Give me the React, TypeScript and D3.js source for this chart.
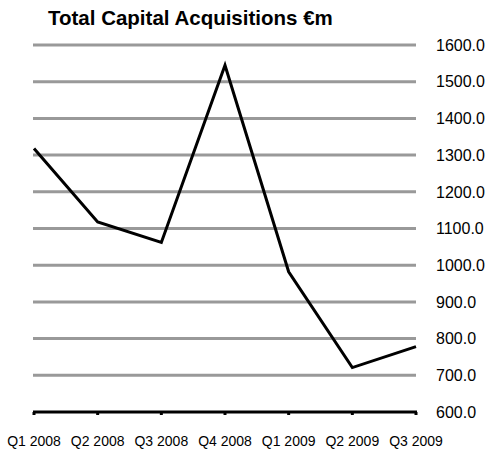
import { useEffect, useRef } from 'react';
import * as d3 from 'd3';

const quarters = ['Q1 2008', 'Q2 2008', 'Q3 2008', 'Q4 2008', 'Q1 2009', 'Q2 2009', 'Q3 2009'];
const acquisitions = [1318, 1118, 1062, 1545, 982, 721, 778];
const yTicks = [600, 700, 800, 900, 1000, 1100, 1200, 1300, 1400, 1500, 1600];
const title = 'Total Capital Acquisitions €m';

const App = () => {
  const svgRef = useRef<SVGSVGElement | null>(null);

  useEffect(() => {
    const width = 491;
    const height = 450;
    const left = 34;
    const right = 416;
    const top = 45;
    const bottom = 412;

    const svg = d3.select(svgRef.current)
      .attr('width', width)
      .attr('height', height)
      .style('font-family', '"Liberation Sans", Arial, sans-serif');

    svg.selectAll('*').remove();

    const x = d3.scalePoint()
      .domain(quarters)
      .range([left, right]);

    const y = d3.scaleLinear()
      .domain([600, 1600])
      .range([bottom, top]);

    svg.append('text')
      .attr('x', 48)
      .attr('y', 25)
      .attr('font-size', '20.5px')
      .attr('font-weight', 'bold')
      .attr('fill', '#000')
      .text(title);

    // gridlines (except the baseline, which is the axis)
    svg.append('g')
      .selectAll('line')
      .data(yTicks.filter(d => d !== 600))
      .enter()
      .append('line')
      .attr('x1', left - 1)
      .attr('x2', right)
      .attr('y1', d => y(d))
      .attr('y2', d => y(d))
      .attr('stroke', '#999999')
      .attr('stroke-width', 3);

    // y labels on the right
    svg.append('g')
      .selectAll('text')
      .data(yTicks)
      .enter()
      .append('text')
      .attr('x', 436)
      .attr('y', d => y(d))
      .attr('dy', '0.36em')
      .attr('font-size', '16px')
      .attr('fill', '#000')
      .text(d => d.toFixed(1));

    // category axis
    const axis = svg.append('g');
    axis.append('line')
      .attr('x1', left - 1)
      .attr('x2', right + 1)
      .attr('y1', y(600))
      .attr('y2', y(600))
      .attr('stroke', '#000')
      .attr('stroke-width', 3);

    axis.selectAll('.tick')
      .data(quarters)
      .enter()
      .append('line')
      .attr('class', 'tick')
      .attr('x1', d => x(d)!)
      .attr('x2', d => x(d)!)
      .attr('y1', y(600))
      .attr('y2', y(600) + 3)
      .attr('stroke', '#000')
      .attr('stroke-width', 3);

    axis.selectAll('.label')
      .data(quarters)
      .enter()
      .append('text')
      .attr('class', 'label')
      .attr('x', d => x(d)!)
      .attr('y', 446)
      .attr('text-anchor', 'middle')
      .attr('font-size', '14px')
      .attr('fill', '#000')
      .text(d => d);

    const line = d3.line<number>()
      .x((_, i) => x(quarters[i])!)
      .y(d => y(d));

    svg.append('path')
      .datum(acquisitions)
      .attr('fill', 'none')
      .attr('stroke', '#000')
      .attr('stroke-width', 3)
      .attr('stroke-linejoin', 'miter')
      .attr('d', line);
  }, []);

  return <svg ref={svgRef} style={{ position: 'absolute', left: 0, top: 0 }}></svg>;
};

export default App;
